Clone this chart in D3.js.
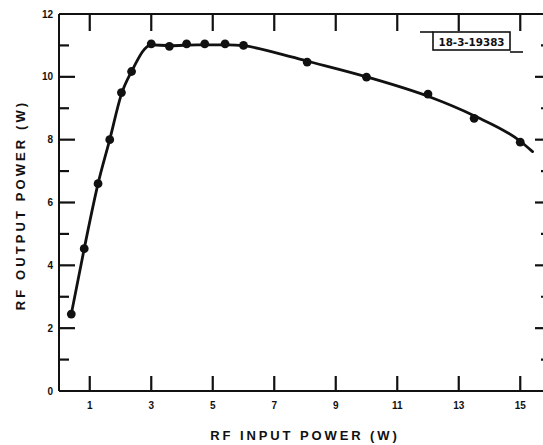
<!DOCTYPE html>
<html>
<head>
<meta charset="utf-8">
<script src="https://cdn.jsdelivr.net/npm/d3@7"></script>
<style>
  html, body { margin: 0; padding: 0; background: #fff; }
  svg { display: block; }
  text { font-family: "Liberation Sans", "DejaVu Sans", sans-serif; font-weight: bold; fill: #111; }
</style>
</head>
<body>
<svg id="chart" width="543" height="445"></svg>
<script>
// Measured operating points: RF input power (W) vs RF output power (W)
const inputPower  = [0.4, 0.82, 1.27, 1.65, 2.03, 2.36, 3.0, 3.59, 4.15, 4.74, 5.4, 6.0, 8.07, 10.0, 12.0, 13.5, 15.0];
const outputPower = [2.45, 4.53, 6.6, 8.0, 9.5, 10.17, 11.05, 10.97, 11.05, 11.05, 11.05, 11.0, 10.47, 9.99, 9.45, 8.68, 7.92];

// Smooth fitted curve drawn through the measurements
const fitInput  = [0.4, 0.82, 1.27, 1.65, 2.03, 2.36, 3.0, 3.6, 4.5, 5.5, 6.0, 7.0, 8.0, 10.0, 12.0, 13.5, 15.0, 15.4];
const fitOutput = [2.45, 4.53, 6.6, 8.0, 9.45, 10.17, 11.02, 10.99, 11.02, 11.02, 10.99, 10.78, 10.52, 10.0, 9.38, 8.76, 7.95, 7.62];

const xTickValues = [1, 3, 5, 7, 9, 11, 13, 15];
const yLabelValues = [0, 2, 4, 6, 8, 10, 12];
const yMajorValues = [2, 4, 6, 8, 10];
const yMinorValues = [1, 3, 5, 7, 9, 11];

const svg = d3.select("#chart");

const x = d3.scaleLinear().domain([0, 16]).range([59, 551]);
const y = d3.scaleLinear().domain([0, 12]).range([391, 14]);

const ink = "#111";

// Frame: left, bottom and top rules; the right rule sits just past the edge
const frame = svg.append("g").attr("stroke", ink).attr("stroke-width", 2).attr("fill", "none");
frame.append("line").attr("x1", x(0)).attr("x2", x(0)).attr("y1", y(12)).attr("y2", y(0));
frame.append("line").attr("x1", x(0)).attr("x2", x(16)).attr("y1", y(0)).attr("y2", y(0));
frame.append("line").attr("x1", x(0)).attr("x2", x(16)).attr("y1", y(12)).attr("y2", y(12));
frame.append("line").attr("x1", x(16)).attr("x2", x(16)).attr("y1", y(12)).attr("y2", y(0));

const ticks = svg.append("g").attr("stroke", ink).attr("stroke-width", 2.2);

// Bottom and top ticks point inward
ticks.selectAll("line.xb").data(xTickValues).join("line").attr("class", "xb")
  .attr("x1", d => x(d)).attr("x2", d => x(d)).attr("y1", y(0)).attr("y2", y(0) - 15);
ticks.selectAll("line.xt").data(xTickValues).join("line").attr("class", "xt")
  .attr("x1", d => x(d)).attr("x2", d => x(d)).attr("y1", y(12)).attr("y2", y(12) + 17);

// Left and right ticks: longer majors, shorter minors
ticks.selectAll("line.yl").data(yMajorValues).join("line").attr("class", "yl")
  .attr("x1", x(0)).attr("x2", x(0) + 16).attr("y1", d => y(d)).attr("y2", d => y(d));
ticks.selectAll("line.ylm").data(yMinorValues).join("line").attr("class", "ylm")
  .attr("x1", x(0)).attr("x2", x(0) + 10).attr("y1", d => y(d)).attr("y2", d => y(d));
ticks.selectAll("line.yr").data(yMajorValues).join("line").attr("class", "yr")
  .attr("x1", x(16)).attr("x2", x(16) - 16).attr("y1", d => y(d)).attr("y2", d => y(d));
ticks.selectAll("line.yrm").data(yMinorValues).join("line").attr("class", "yrm")
  .attr("x1", x(16)).attr("x2", x(16) - 10).attr("y1", d => y(d)).attr("y2", d => y(d));

// Tick labels
svg.append("g").selectAll("text").data(xTickValues).join("text")
  .attr("x", d => x(d)).attr("y", y(0) + 18).attr("text-anchor", "middle")
  .attr("font-size", 10).text(d3.format("d"));
svg.append("g").selectAll("text").data(yLabelValues).join("text")
  .attr("x", x(0) - 6).attr("y", d => y(d) + 3.6).attr("text-anchor", "end")
  .attr("font-size", 10).text(d3.format("d"));

// Fitted curve
const fit = fitInput.map((d, i) => [d, fitOutput[i]]);
const line = d3.line().x(d => x(d[0])).y(d => y(d[1])).curve(d3.curveMonotoneX);
svg.append("path").datum(fit)
  .attr("d", line).attr("fill", "none").attr("stroke", ink).attr("stroke-width", 2.8)
  .attr("stroke-linejoin", "round").attr("stroke-linecap", "round");

// Measured points
svg.append("g").selectAll("circle")
  .data(inputPower.map((d, i) => [d, outputPower[i]]))
  .join("circle")
  .attr("cx", d => x(d[0])).attr("cy", d => y(d[1])).attr("r", 4.4).attr("fill", ink);

// Axis titles
svg.append("text")
  .attr("x", 305).attr("y", 440).attr("text-anchor", "middle")
  .attr("font-size", 13).attr("letter-spacing", 2.9)
  .text("RF INPUT POWER (W)");
svg.append("text")
  .attr("transform", `translate(25,205) rotate(-90)`).attr("text-anchor", "middle")
  .attr("font-size", 13).attr("letter-spacing", 3.1)
  .text("RF OUTPUT POWER (W)");

// Figure reference tag
const tag = svg.append("g");
tag.append("rect").attr("x", 433).attr("y", 32).attr("width", 77).attr("height", 18)
  .attr("fill", "#fff").attr("stroke", ink).attr("stroke-width", 1.6);
tag.append("line").attr("x1", 420).attr("x2", 433).attr("y1", 32).attr("y2", 32).attr("stroke", ink).attr("stroke-width", 1.6);
tag.append("line").attr("x1", 510).attr("x2", 523).attr("y1", 52).attr("y2", 52).attr("stroke", ink).attr("stroke-width", 1.6);
tag.append("text").attr("x", 471.5).attr("y", 45.5).attr("text-anchor", "middle")
  .attr("font-size", 10).attr("textLength", 66).attr("lengthAdjust", "spacingAndGlyphs")
  .style("font-family", "'DejaVu Sans Condensed', 'Liberation Sans Narrow', sans-serif")
  .text("18-3-19383");
</script>
</body>
</html>
